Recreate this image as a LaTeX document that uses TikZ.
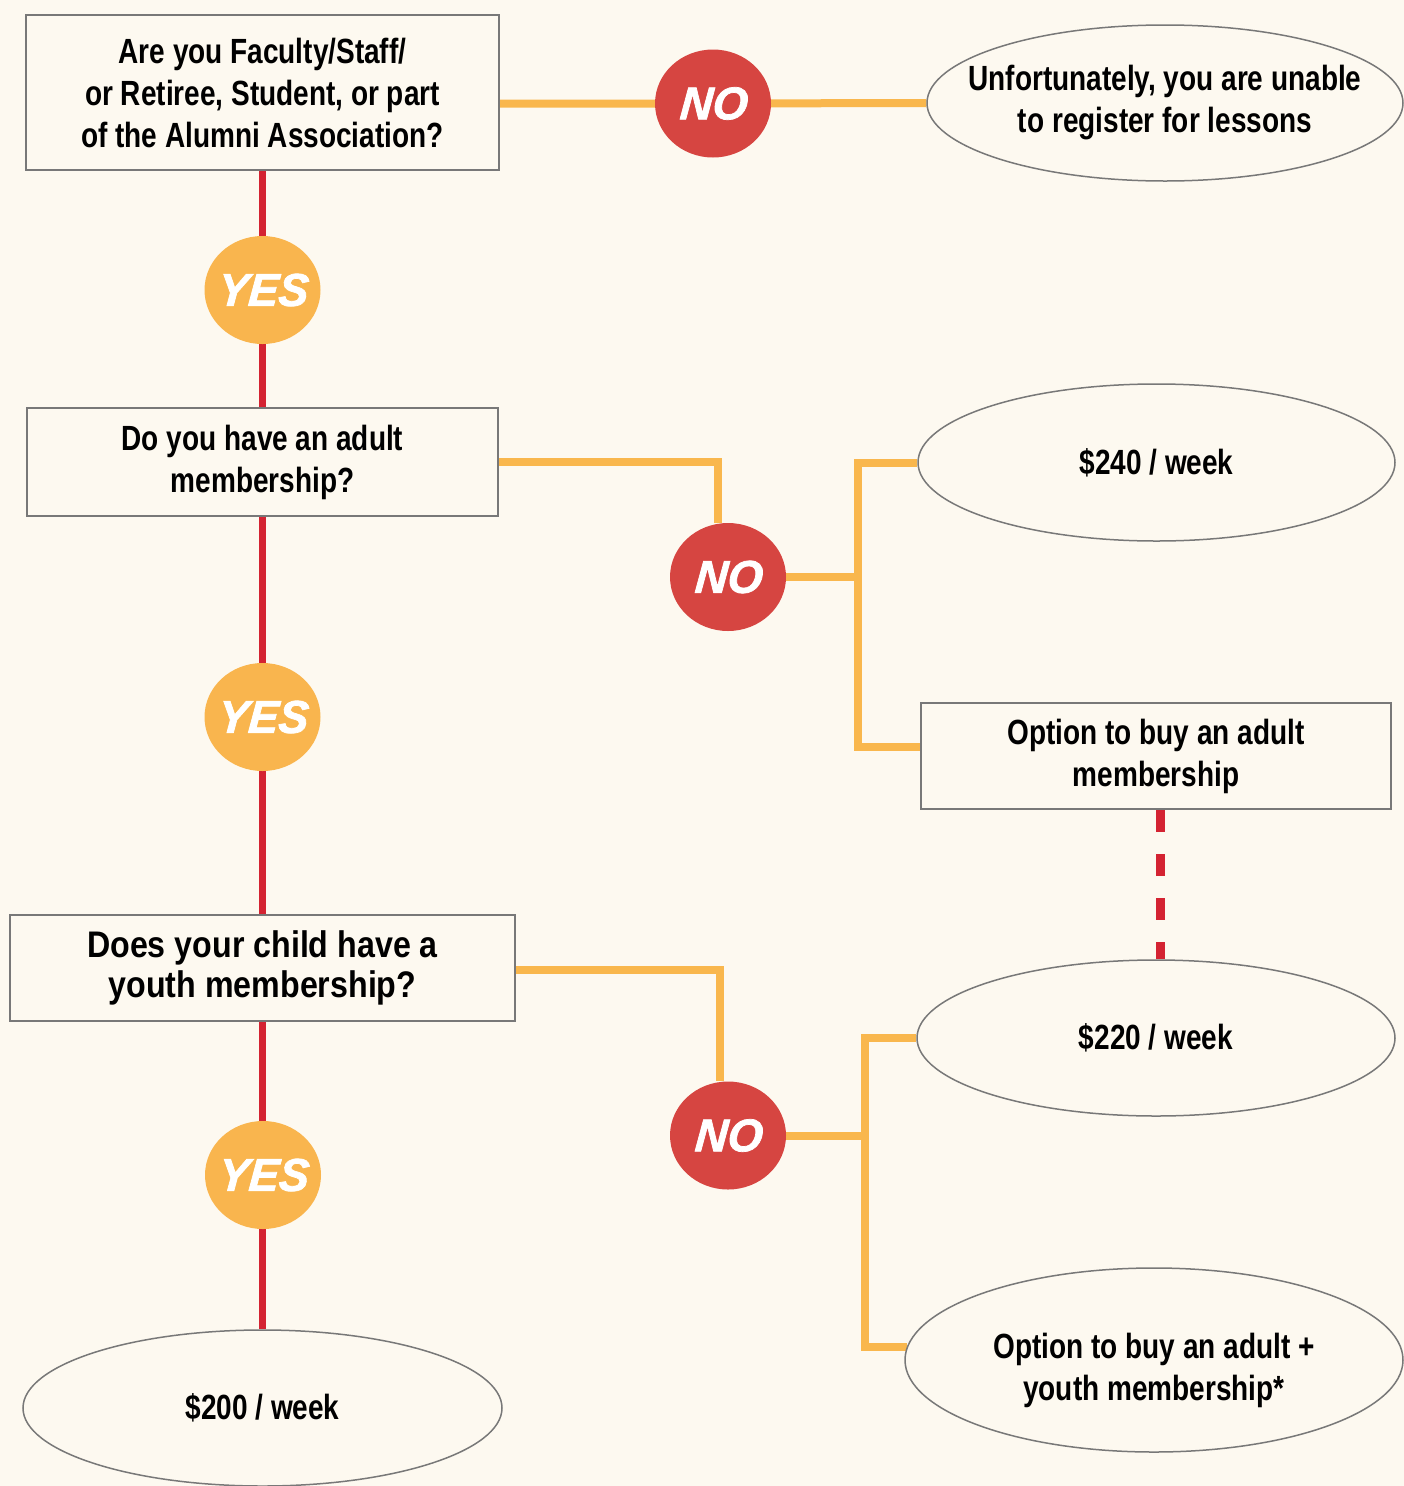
\documentclass[tikz,border=0pt]{standalone}
\usepackage{fontspec}
\usetikzlibrary{shapes.geometric,backgrounds,calc}
\newfontfamily\condb{Liberation Sans}[FakeStretch=0.8]
\newfontfamily\wideb{Liberation Sans}[FakeStretch=0.87]
\newfontfamily\ynfont{Liberation Sans}[FakeStretch=0.98,BoldItalicFeatures={FakeBold=1.6,FakeSlant=0.08}]
\definecolor{bgc}{RGB}{253,249,240}
\definecolor{orl}{RGB}{249,183,77}
\definecolor{redl}{RGB}{212,35,50}
\definecolor{nofill}{RGB}{214,69,65}
\definecolor{yesfill}{RGB}{249,181,78}
\definecolor{edgeg}{RGB}{120,120,120}
\tikzset{
  qbox/.style={draw=edgeg,line width=2pt,fill=bgc,rectangle,inner sep=0pt,align=center,
    font=\condb\bfseries\fontsize{35}{42}\selectfont},
  ovtext/.style={inner sep=0pt,align=center,font=\condb\bfseries\fontsize{35}{42}\selectfont},
  oval/.style={draw=edgeg,line width=1.5pt,fill=bgc,ellipse,inner sep=0pt},
  yntext/.style={inner sep=0pt,text=white,font=\ynfont\bfseries\itshape\fontsize{46}{46}\selectfont},
  nobub/.style={ellipse,fill=nofill,minimum width=116pt,minimum height=108pt,inner sep=0pt},
  yesbub/.style={ellipse,fill=yesfill,minimum width=116pt,minimum height=108pt,inner sep=0pt},
  oline/.style={draw=orl,line width=8pt},
  rline/.style={draw=redl,line width=7pt},
  rdash/.style={draw=redl,line width=9pt,dash pattern=on 22pt off 22pt}
}
\begin{document}
\begin{tikzpicture}[x=1pt,y=-1pt]
\useasboundingbox (0,0) rectangle (1404,1486);
% nodes
\node[qbox,minimum width=473pt,minimum height=155pt] (q1) at (262.5,92.5)
  {Are you Faculty/Staff/\\or Retiree, Student, or part\\of the Alumni Association?};
\node[nobub,label={[yntext]center:NO}] (no1) at (713,103.5) {};
\node[oval,minimum width=476pt,minimum height=156pt,
  label={[ovtext]center:{Unfortunately, you are unable\\to register for lessons}}] (e1) at (1165,103) {};
\node[yesbub,label={[yntext]center:YES}] (yes1) at (262.5,290) {};
\node[qbox,minimum width=471pt,minimum height=108pt] (q2) at (262.5,462)
  {Do you have an adult\\membership?};
\node[nobub,label={[yntext]center:NO}] (no2) at (728,577) {};
\node[oval,minimum width=477pt,minimum height=157pt,
  label={[ovtext]center:{\$240 / week}}] (e2) at (1156.5,462.5) {};
\node[qbox,minimum width=470pt,minimum height=106pt] (q3) at (1156,756)
  {Option to buy an adult\\membership};
\node[yesbub,label={[yntext]center:YES}] (yes2) at (262.5,717) {};
\node[qbox,minimum width=505pt,minimum height=106pt,
  font=\wideb\bfseries\fontsize{37}{40}\selectfont] (q4) at (262.5,968)
  {Does your child have a\\youth membership?};
\node[oval,minimum width=478pt,minimum height=156pt,
  label={[ovtext]center:{\$220 / week}}] (e3) at (1156,1038) {};
\node[nobub,label={[yntext]center:NO}] (no3) at (728,1135.5) {};
\node[oval,minimum width=498pt,minimum height=184pt,
  label={[ovtext,yshift=-10pt]center:{Option to buy an adult +\\youth membership*}}] (e4) at (1154,1360) {};
\node[yesbub,label={[yntext]center:YES}] (yes3) at (263,1175) {};
\node[oval,minimum width=479pt,minimum height=156pt,
  label={[ovtext]center:{\$200 / week}}] (e5) at (262.5,1408) {};
\coordinate (j1) at (858,577);
\coordinate (j2) at (865,1135.5);
% connectors
\begin{pgfonlayer}{background}
\fill[bgc] (0,0) rectangle (1404,1486);
\draw[oline] (q1.east |- no1) -- (no1) -- (e1.west);
\draw[rline] (q1) -- (q2);
\draw[rline] (q2) -- (q4);
\draw[rline] (q4.south) -- (e5.north);
\draw[oline] (q2.east) -| ([xshift=-10pt]no2.north);
\draw[oline] (no2) -- (j1);
\draw[oline] (e2.west) -| (j1) |- ([yshift=9pt]q3.west);
\draw[rdash] ([xshift=4pt]q3.south) -- ([xshift=4pt]e3.north);
\draw[oline] ([yshift=-2pt]q4.east) -| ([xshift=-8pt]no3.north);
\draw[oline] (no3) -- (j2);
\draw[oline] (e3.west) -| (j2) |- ([shift={(3pt,13pt)}]e4.west);
\end{pgfonlayer}
\end{tikzpicture}
\end{document}
